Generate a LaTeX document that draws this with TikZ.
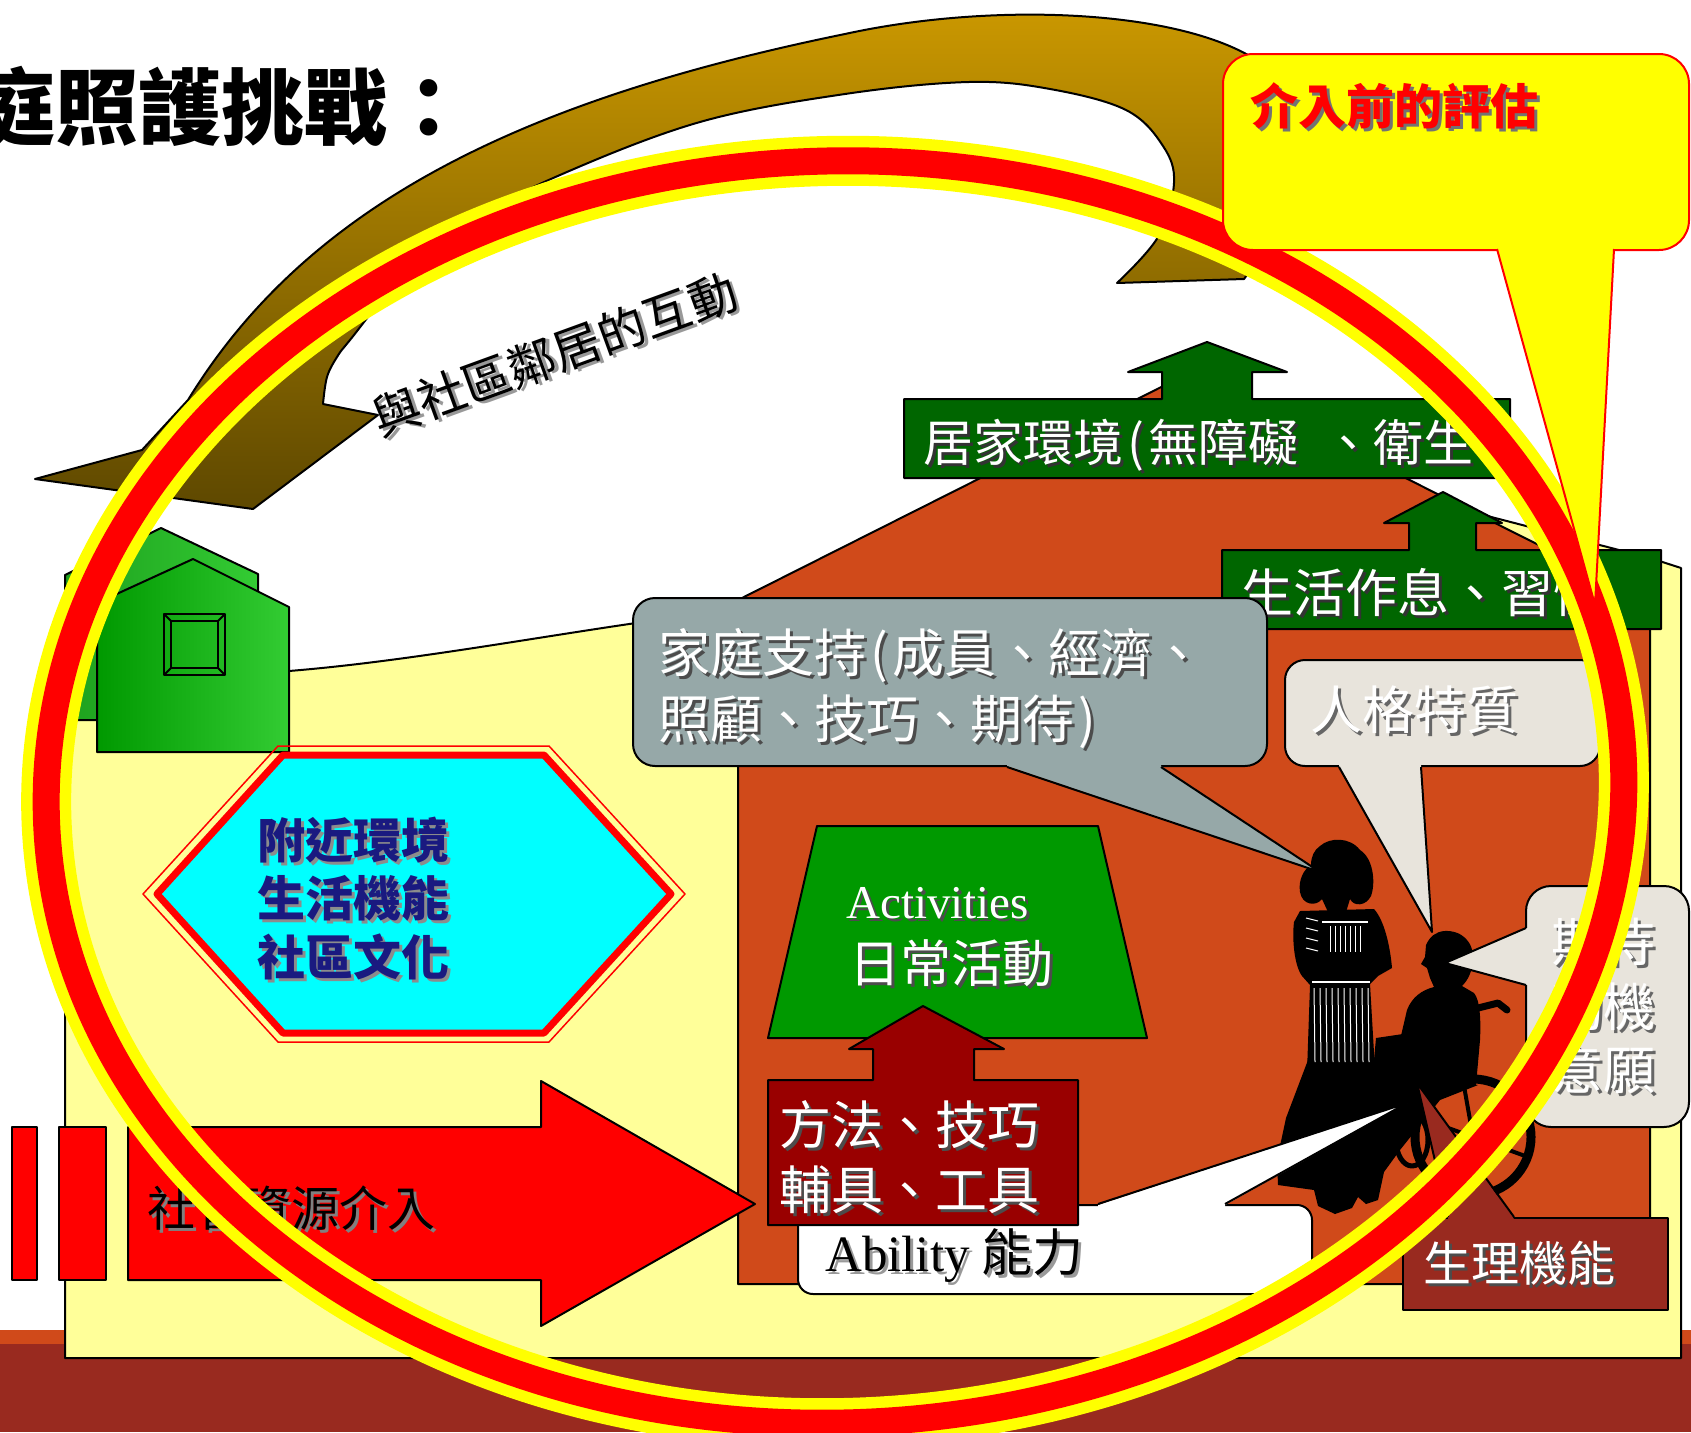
\documentclass[tikz,border=0pt]{standalone}
\usepackage{fontspec}
\newfontfamily\cjk{Noto Sans CJK TC}
\newfontfamily\tnr{Liberation Serif}
\newcommand\fs[1]{\fontsize{#1}{#1}\selectfont}
% text with a soft drop shadow: {text colour}{shadow colour}{text}
\newcommand\shtxt[3]{\makebox[0pt][l]{\kern3pt\raisebox{-3pt}{\color{#2}#3}}{\color{#1}#3}}
% half-width brackets as set in the slide
\newcommand\lpar{\makebox[0.5em][c]{(}}
\newcommand\rpar{\makebox[0.5em][c]{)}}
\definecolor{housebg}{RGB}{255,255,153}
\definecolor{brick}{RGB}{208,74,26}
\definecolor{floorc}{RGB}{153,42,31}
\definecolor{dkgreen}{RGB}{0,102,0}
\definecolor{midgreen}{RGB}{0,153,0}
\definecolor{ltgreen}{RGB}{51,204,51}
\definecolor{backgreen}{RGB}{30,160,30}
\definecolor{slate}{RGB}{150,168,168}
\definecolor{paper}{RGB}{232,228,220}
\definecolor{darkred}{RGB}{153,0,0}
\definecolor{gold}{RGB}{204,153,0}
\definecolor{umber}{RGB}{94,72,0}
\definecolor{inkblue}{RGB}{26,26,128}
\definecolor{aqua}{RGB}{0,255,255}
\definecolor{ringred}{RGB}{255,0,0}
\definecolor{ringyellow}{RGB}{255,255,0}
\begin{document}
\begin{tikzpicture}[x=1pt,y=-1pt,line join=round,
  lbl/.style={inner sep=0pt, anchor=base west},
  edge/.style={draw=black, line width=2pt},
  whitetxt/.style={lbl, font=\cjk\fs{52}}]

\useasboundingbox (0,0) rectangle (1691,1432);
\clip (0,0) rectangle (1691,1432);
\fill[white] (0,0) rectangle (1691,1432);

% floor
\fill[brick] (0,1330) rectangle (1691,1344);
\fill[floorc] (0,1344) rectangle (1691,1432);

% yard behind the houses
\draw[edge, fill=housebg] (65,720) -- (65,1358) -- (1681,1358) -- (1681,568) -- (1650,558)
  -- (1193,440) -- (760,606) -- (636,623) .. controls (520,640) and (400,662) .. (289,671)
  -- (200,700) -- cycle;

% neighbour house
\shadedraw[edge, left color=backgreen, right color=ltgreen]
  (65,720) -- (65,575) -- (161,528) -- (258,574) -- (258,720) -- cycle;
\shadedraw[edge, left color=midgreen, right color=ltgreen]
  (97,752) -- (97,603) -- (193,559) -- (289,607) -- (289,752) -- cycle;
\draw[edge] (164,614) rectangle (225,675);
\draw[edge] (171,621) rectangle (218,668);
\draw[edge] (164,614) -- (171,621) (225,614) -- (218,621)
            (164,675) -- (171,668) (225,675) -- (218,668);

% curved arrow over the roofs
\shadedraw[edge, top color=gold, bottom color=umber]
  (1244,279) .. controls (1280,230) and (1320,130) .. (1270,70)
  .. controls (1200,10) and (1000,0) .. (845,34)
  .. controls (522,100) and (308,204) .. (188,400)
  -- (142,450) -- (35,479) -- (253,509) -- (378,415) -- (323,404)
  -- plot[smooth, tension=0.6] coordinates {(323,404) (327,377) (337,357) (350,340)
   (400,280) (470,222) (560,175) (700,122) (845,94) (969,82) (1050,89) (1126,110)
   (1163,146) (1174,183) (1158,237) (1117,283)} -- cycle;
\node[font=\cjk\fs{48}, rotate=20, inner sep=0pt] (neighbours) at (555,356)
  {\shtxt{black}{black!40}{與社區鄰居的互動}};

% the home
\draw[edge, fill=brick] (738,1284) -- (738,600) -- (1193,371) -- (1650,601) -- (1650,1284) -- cycle;

% upward arrows
\draw[edge, fill=dkgreen] (904,399) -- (1162,399) -- (1162,372) -- (1128,372) -- (1207,342)
  -- (1287,372) -- (1252,372) -- (1252,399) -- (1510,399) -- (1510,478) -- (904,478) -- cycle;
\node[lbl, font=\cjk\fs{50}] (envtxt) at (923,461)
  {\shtxt{white}{black!80}{居家環境\lpar 無障礙\hspace{0.5em}、衛生}};
\draw[edge, fill=dkgreen] (1222,550) -- (1409,550) -- (1409,523) -- (1384,523) -- (1443,492)
  -- (1502,523) -- (1476,523) -- (1476,550) -- (1661,550) -- (1661,629) -- (1222,629) -- cycle;
\node[whitetxt] (habits) at (1241,612) {\shtxt{white}{black!80}{生活作息、習慣}};

% family support callout
\draw[edge, fill=slate, rounded corners=22pt] (633,598) rectangle (1267,766);
\node[whitetxt] (family1) at (658,672) {\shtxt{white}{black!70}{家庭支持\lpar 成員、經濟、}};
\node[whitetxt] (family2) at (658,738) {\shtxt{white}{black!70}{照顧、技巧、期待\rpar}};

% personality callout
\draw[edge, fill=paper, rounded corners=20pt] (1285,660) rectangle (1600,766);
\node[whitetxt] (persona) at (1310,729) {\shtxt{white}{black!60}{人格特質}};

% motivation callout
\draw[edge, fill=paper, rounded corners=25pt] (1526,886) rectangle (1689,1127);
\node[whitetxt] (mot1) at (1551,961) {\shtxt{white}{black!60}{期待}};
\node[whitetxt] (mot2) at (1551,1026) {\shtxt{white}{black!60}{動機}};
\node[whitetxt] (mot3) at (1551,1089) {\shtxt{white}{black!60}{意願}};

% activities
\draw[edge, fill=midgreen] (817,826) -- (1098,826) -- (1147,1038) -- (768,1038) -- cycle;
\node[lbl, font=\tnr\fs{47}] (act1) at (846,918) {\shtxt{white}{black!70}{Activities}};
\node[lbl, font=\cjk\fs{51}] (act2) at (849,982) {\shtxt{white}{black!70}{日常活動}};

% carer: hair and head
\fill (1320,846) .. controls (1330,837) and (1350,837) .. (1360,850)
  .. controls (1373,858) and (1376,882) .. (1371,896) .. controls (1366,906) and (1354,907) .. (1350,899)
  -- (1346,912) -- (1328,912) -- (1322,899) .. controls (1316,907) and (1302,905) .. (1300,892)
  .. controls (1298,880) and (1304,869) .. (1311,865) .. controls (1311,857) and (1314,850) .. (1320,846) -- cycle;
% carer: dress
\fill (1300,911) -- (1374,909) .. controls (1384,920) and (1390,945) .. (1392,968)
  -- (1378,976) -- (1370,984) -- (1375,1070) -- (1307,1072) -- (1310,985) -- (1302,976)
  .. controls (1294,965) and (1292,938) .. (1294,922) -- cycle;
% skirt hem, lap and feet
\fill (1308,1060) -- (1374,1060) -- (1376,1038) -- (1403,1034) -- (1440,1080) -- (1478,1085)
  -- (1440,1100) -- (1400,1150) -- (1384,1172) -- (1378,1200) -- (1366,1204) -- (1358,1197)
  -- (1352,1208) -- (1335,1214) -- (1318,1206) -- (1314,1190) -- (1278,1185) -- (1277,1160)
  -- (1286,1118) -- cycle;
% seated figure
\fill (1444,931) .. controls (1462,930) and (1474,942) .. (1473,960)
  .. controls (1472,972) and (1468,980) .. (1462,986) -- (1474,993)
  .. controls (1480,1000) and (1481,1020) .. (1480,1040) -- (1476,1085) -- (1420,1090)
  -- (1400,1040) -- (1407,1010) .. controls (1412,997) and (1422,990) .. (1434,987)
  -- (1430,978) -- (1427,968) -- (1421,964) -- (1425,957) -- (1426,945)
  .. controls (1430,936) and (1436,932) .. (1444,931) -- cycle;
% wheelchair
\draw[line width=9pt] (1473,1137) circle (58);
\foreach \a in {20,80,140,200,260,320} \draw[line width=4pt] (1473,1137) -- ++(\a:55);
\fill (1473,1137) circle (10);
\draw[line width=5pt] (1412,1140) ellipse (16 and 26);
\draw[line width=7pt, line cap=round] (1478,1008) -- (1498,1003) -- (1507,1010);
% dress stripes
\foreach \x in {1314,1320,...,1368} \draw[white, line width=1pt] (\x,988) -- (\x+1,1062);
\foreach \x in {1330,1335,...,1364} \draw[white, line width=1pt] (\x,926) -- (\x,952);
\foreach \y in {918,928,938,948} \draw[white, line width=1pt] (1306,\y) -- (1318,\y+3);
\draw[white, line width=1.2pt] (1322,922) -- (1368,922) (1312,982) -- (1370,982);

% callout pointers
\fill[slate] (1007,766) -- (1320,872) -- (1161,766) -- (1161,758) -- (1007,758) -- cycle;
\draw[line width=2pt] (1007,767) -- (1320,872) -- (1161,767);
\fill[paper] (1339,766) -- (1432,932) -- (1421,766) -- (1421,758) -- (1339,758) -- cycle;
\draw[line width=2pt] (1339,767) -- (1432,932) -- (1421,767);
\fill[paper] (1527,928) -- (1445,963) -- (1527,985) -- (1535,985) -- (1535,928) -- cycle;
\draw[line width=2pt] (1526,928) -- (1445,963) -- (1526,985);

% ability callout
\draw[edge, fill=white, rounded corners=15pt] (798,1205) rectangle (1312,1294);
\fill[white] (1098,1205) -- (1407,1103) -- (1225,1205) -- (1225,1212) -- (1098,1212) -- cycle;
\draw[line width=2pt] (1098,1204) -- (1407,1103) -- (1225,1204);
\node[lbl, font=\cjk\fs{51}] (ability) at (825,1271) {\shtxt{black}{black!40}{{\tnr Ability} 能力}};

% methods and tools
\draw[edge, fill=darkred] (768,1080) -- (873,1080) -- (873,1049) -- (849,1049) -- (923,1006)
  -- (1004,1049) -- (974,1049) -- (974,1080) -- (1078,1080) -- (1078,1225) -- (768,1225) -- cycle;
\node[whitetxt] (tools1) at (779,1144) {\shtxt{white}{black!70}{方法、技巧}};
\node[whitetxt] (tools2) at (779,1209) {\shtxt{white}{black!70}{輔具、工具}};

% physical function
\draw[edge, fill=floorc] (1403,1218) rectangle (1668,1310);
\fill[floorc] (1448,1219) -- (1417,1083) -- (1514,1219) -- (1514,1226) -- (1448,1226) -- cycle;
\draw[line width=2pt] (1448,1217) -- (1417,1083) -- (1514,1217);
\node[lbl, font=\cjk\fs{48}] (physio) at (1423,1281) {\shtxt{white}{black!70}{生理機能}};

% social resources arrow
\draw[edge, fill=ringred] (12,1127) rectangle (37,1280);
\draw[edge, fill=ringred] (59,1127) rectangle (106,1280);
\draw[edge, fill=ringred] (128,1127) -- (541,1127) -- (541,1081) -- (755,1204) -- (541,1326)
  -- (541,1280) -- (128,1280) -- cycle;
\node[lbl, font=\cjk\fs{48}] (social) at (147,1226) {\shtxt{black}{black!50}{社會資源介入}};

% neighbourhood hexagon
\draw[ringred, line width=1.5pt] (143,894) -- (278,746) -- (549,746) -- (685,894) -- (549,1042)
  -- (278,1042) -- cycle;
\draw[ringred, line width=7pt, fill=aqua] (157,894) -- (283,755) -- (544,755) -- (671,894)
  -- (544,1033) -- (283,1033) -- cycle;
\node[lbl, font=\cjk\bfseries\fs{48}] (hex1) at (257,858) {\shtxt{inkblue}{black!45}{附近環境}};
\node[lbl, font=\cjk\bfseries\fs{48}] (hex2) at (257,916) {\shtxt{inkblue}{black!45}{生活機能}};
\node[lbl, font=\cjk\bfseries\fs{48}] (hex3) at (257,975) {\shtxt{inkblue}{black!45}{社區文化}};

% assessment ring
\begin{scope}[rotate around={2:(835,792)}]
  \draw[ringyellow, line width=50pt] (835,792) ellipse (789 and 631);
  \draw[ringred, line width=27pt] (835,792) ellipse (789 and 631);
\end{scope}

% assessment callout
\draw[ringred, line width=2pt, fill=ringyellow, rounded corners=30pt] (1223,54) rectangle (1689,250);
\fill[ringyellow] (1497,250) -- (1595,605) -- (1614,250) -- (1614,242) -- (1497,242) -- cycle;
\draw[ringred, line width=2pt] (1497,249) -- (1595,605) -- (1614,249);
\node[lbl, font=\cjk\bfseries\fs{48}] (assess) at (1250,124) {\shtxt{ringred}{black!55}{介入前的評估}};

% heading
\node[lbl, font=\cjk\bfseries\fs{83}] (heading) at (-28,138) {庭照護挑戰：};
\end{tikzpicture}
\end{document}
